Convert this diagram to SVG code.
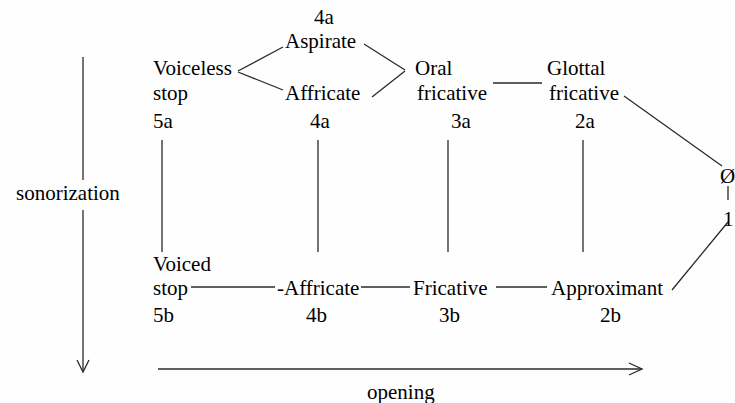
<svg xmlns="http://www.w3.org/2000/svg" width="735" height="403" viewBox="0 0 735 403">
<rect width="735" height="403" fill="#fefefe"/>
<g id="connectors" stroke="#2a2a2a" stroke-width="1.3" fill="none">
<line x1="238" y1="71" x2="283" y2="47"/>
<line x1="238" y1="72" x2="283" y2="90"/>
<line x1="364" y1="44" x2="405" y2="70"/>
<line x1="405" y1="71" x2="372" y2="97"/>
<line x1="493" y1="83" x2="542" y2="83"/>
<line x1="624" y1="96" x2="722" y2="166"/>
<line x1="162" y1="140" x2="162" y2="252"/>
<line x1="318" y1="140" x2="318" y2="252"/>
<line x1="448" y1="140" x2="448" y2="252"/>
<line x1="583" y1="140" x2="583" y2="252"/>
<line x1="191" y1="287" x2="275" y2="287"/>
<line x1="361" y1="287" x2="410" y2="287"/>
<line x1="496" y1="287" x2="547" y2="287"/>
<line x1="672" y1="290" x2="728" y2="222"/>
<line x1="83" y1="57" x2="83" y2="180"/>
<line x1="83" y1="210" x2="83" y2="372"/>
<polyline points="77,360 83,372 89,360"/>
<line x1="158" y1="369" x2="642" y2="369"/>
<polyline points="629,363 642,369 629,375"/>
<line x1="728" y1="186" x2="728" y2="200"/>
</g>
<g id="sonorization">
<text x="16" y="200" font-family="Liberation Serif" font-size="21">sonorization</text>
</g>
<g id="opening">
<text x="367" y="399" font-family="Liberation Serif" font-size="21">opening</text>
</g>
<g id="voiceless-stop">
<text x="153" y="75" font-family="Liberation Serif" font-size="21">Voiceless</text>
<text x="153" y="100" font-family="Liberation Serif" font-size="21">stop</text>
<text x="153" y="128" font-family="Liberation Serif" font-size="21">5a</text>
</g>
<g id="aspirate">
<text x="314" y="24" font-family="Liberation Serif" font-size="21">4a</text>
<text x="285" y="48" font-family="Liberation Serif" font-size="21">Aspirate</text>
</g>
<g id="affricate-4a">
<text x="285" y="100" font-family="Liberation Serif" font-size="21">Affricate</text>
<text x="310" y="128" font-family="Liberation Serif" font-size="21">4a</text>
</g>
<g id="oral-fricative">
<text x="415" y="75" font-family="Liberation Serif" font-size="21">Oral</text>
<text x="417" y="100" font-family="Liberation Serif" font-size="21">fricative</text>
<text x="451" y="128" font-family="Liberation Serif" font-size="21">3a</text>
</g>
<g id="glottal-fricative">
<text x="547" y="75" font-family="Liberation Serif" font-size="21">Glottal</text>
<text x="549" y="100" font-family="Liberation Serif" font-size="21">fricative</text>
<text x="575" y="128" font-family="Liberation Serif" font-size="21">2a</text>
</g>
<g id="null">
<text x="720" y="183" font-family="Liberation Serif" font-size="21">Ø</text>
<text x="723" y="226" font-family="Liberation Serif" font-size="21">1</text>
</g>
<g id="voiced-stop">
<text x="153" y="271" font-family="Liberation Serif" font-size="21">Voiced</text>
<text x="153" y="295" font-family="Liberation Serif" font-size="21">stop</text>
<text x="153" y="322" font-family="Liberation Serif" font-size="21">5b</text>
</g>
<g id="affricate-4b">
<text x="277" y="295" font-family="Liberation Serif" font-size="21">-Affricate</text>
<text x="306" y="322" font-family="Liberation Serif" font-size="21">4b</text>
</g>
<g id="fricative-3b">
<text x="413" y="295" font-family="Liberation Serif" font-size="21">Fricative</text>
<text x="439" y="322" font-family="Liberation Serif" font-size="21">3b</text>
</g>
<g id="approximant">
<text x="551" y="295" font-family="Liberation Serif" font-size="21">Approximant</text>
<text x="600" y="322" font-family="Liberation Serif" font-size="21">2b</text>
</g>
</svg>
